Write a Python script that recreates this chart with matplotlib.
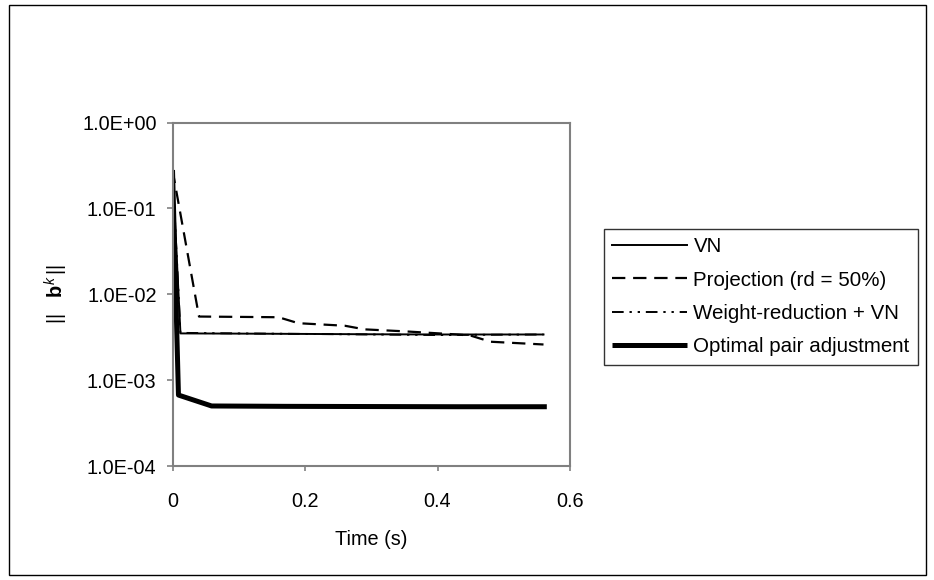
import numpy as np
import matplotlib.pyplot as plt
from matplotlib.patches import Rectangle
from matplotlib.ticker import FixedLocator, NullLocator

plt.rcParams['font.family'] = ['Liberation Sans', 'DejaVu Sans']
plt.rcParams['mathtext.fontset'] = 'custom'
plt.rcParams['mathtext.rm'] = 'Liberation Sans'
plt.rcParams['mathtext.bf'] = 'Liberation Sans:bold'
plt.rcParams['mathtext.it'] = 'Liberation Sans:italic'

# ---- data ----
t_vn = [0, 0.012, 0.1, 0.2, 0.3, 0.4, 0.56]
vn = [0.28, 3.5e-3, 3.48e-3, 3.45e-3, 3.42e-3, 3.4e-3, 3.4e-3]

t_proj = [0, 0.04, 0.16, 0.19, 0.26, 0.29, 0.35, 0.43, 0.45, 0.48, 0.56]
proj = [0.28, 5.5e-3, 5.4e-3, 4.6e-3, 4.3e-3, 3.9e-3, 3.7e-3, 3.4e-3, 3.3e-3, 2.8e-3, 2.6e-3]

t_wr = [0, 0.012, 0.1, 0.2, 0.3, 0.4, 0.56]
wr = [0.28, 3.55e-3, 3.5e-3, 3.45e-3, 3.4e-3, 3.35e-3, 3.4e-3]

t_opt = [0, 0.009, 0.059, 0.17, 0.43, 0.565]
opt = [0.28, 6.7e-4, 5.0e-4, 4.95e-4, 4.9e-4, 4.9e-4]

labels = ['VN', 'Projection (rd = 50%)', 'Weight-reduction + VN', 'Optimal pair adjustment']
xticks = [0, 0.2, 0.4, 0.6]
xticklabels = ['0', '0.2', '0.4', '0.6']
yticks = [1e-4, 1e-3, 1e-2, 1e-1, 1e0]
yticklabels = ['1.0E-04', '1.0E-03', '1.0E-02', '1.0E-01', '1.0E+00']

FS = 14.3

fig = plt.figure(figsize=(9.34, 5.8), dpi=100)
ax = fig.add_axes([172.5/934, 1 - 466/580, (570 - 172.5)/934, (466 - 122.5)/580])

ax.plot(t_vn, vn, color='black', lw=1.4, label=labels[0])
ax.plot(t_proj, proj, color='black', lw=1.6, ls=(0, (6, 3.5)), label=labels[1])
ax.plot(t_wr, wr, color='black', lw=1.4, ls=(0, (6, 3, 1.2, 3, 1.2, 3)), label=labels[2])
ax.plot(t_opt, opt, color='black', lw=3.6, solid_capstyle='butt', label=labels[3])

ax.set_yscale('log')
ax.set_xlim(0, 0.6)
ax.set_ylim(1e-4, 1)
ax.xaxis.set_major_locator(FixedLocator(xticks))
ax.set_xticklabels(xticklabels)
ax.yaxis.set_major_locator(FixedLocator(yticks))
ax.yaxis.set_minor_locator(NullLocator())
ax.set_yticklabels(yticklabels)

for s in ax.spines.values():
    s.set_color('#808080')
    s.set_linewidth(1.5)

ax.tick_params(axis='both', direction='out', color='#808080', width=1.2, labelsize=FS)
ax.tick_params(axis='y', length=4.5, pad=7)
ax.tick_params(axis='x', length=3.5, pad=15)

ax.set_xlabel('Time (s)', fontsize=FS, labelpad=14)
ax.set_ylabel(r'||   $\mathbf{b}^{\mathit{k}}\,$||', fontsize=FS, labelpad=8.5)

leg = ax.legend(loc='upper left', bbox_to_anchor=(604/934, 1 - 229/580),
                bbox_transform=fig.transFigure, fontsize=14.8, frameon=True,
                fancybox=False, edgecolor='black', handlelength=3.65,
                handletextpad=0.3, labelspacing=0.7, borderpad=0.4,
                borderaxespad=0)
leg.get_frame().set_linewidth(1.0)

# outer chart border
fig.patches.append(Rectangle((9/934, 5/580), (926 - 9)/934, (575 - 5)/580,
                             transform=fig.transFigure, fill=False,
                             edgecolor='black', lw=1.0))

fig.savefig('out.png', dpi=100)
